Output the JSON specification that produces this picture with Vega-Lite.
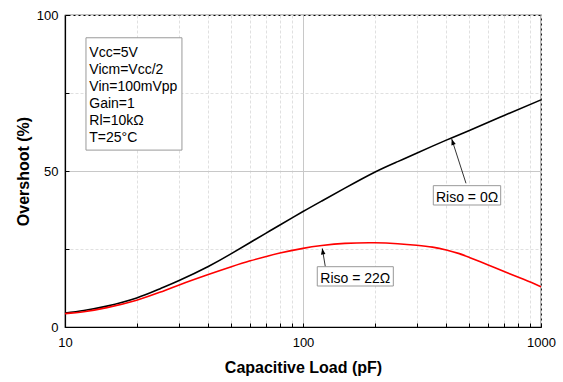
{
  "$schema": "https://vega.github.io/schema/vega-lite/v6.json",
  "width": 476,
  "height": 312,
  "autosize": {"type": "none"},
  "padding": {"left": 65, "top": 15, "right": 22, "bottom": 55},
  "background": "white",
  "config": {
    "view": {"stroke": "#000", "strokeWidth": 1.2},
    "font": "Liberation Sans",
    "axis": {"labelFont": "Liberation Sans", "titleFont": "Liberation Sans"}
  },
  "datasets": {
    "curves": [
      {"pF": 10, "overshoot": 4.5, "series": "Riso = 0Ω"},
      {"pF": 12, "overshoot": 5.3, "series": "Riso = 0Ω"},
      {"pF": 15, "overshoot": 6.7, "series": "Riso = 0Ω"},
      {"pF": 20, "overshoot": 9.3, "series": "Riso = 0Ω"},
      {"pF": 25, "overshoot": 12.2, "series": "Riso = 0Ω"},
      {"pF": 30, "overshoot": 14.8, "series": "Riso = 0Ω"},
      {"pF": 40, "overshoot": 19.4, "series": "Riso = 0Ω"},
      {"pF": 50, "overshoot": 23.5, "series": "Riso = 0Ω"},
      {"pF": 60, "overshoot": 27.1, "series": "Riso = 0Ω"},
      {"pF": 70, "overshoot": 30.1, "series": "Riso = 0Ω"},
      {"pF": 80, "overshoot": 32.7, "series": "Riso = 0Ω"},
      {"pF": 100, "overshoot": 37.0, "series": "Riso = 0Ω"},
      {"pF": 120, "overshoot": 40.4, "series": "Riso = 0Ω"},
      {"pF": 150, "overshoot": 44.5, "series": "Riso = 0Ω"},
      {"pF": 200, "overshoot": 49.6, "series": "Riso = 0Ω"},
      {"pF": 250, "overshoot": 53.0, "series": "Riso = 0Ω"},
      {"pF": 300, "overshoot": 55.7, "series": "Riso = 0Ω"},
      {"pF": 400, "overshoot": 59.9, "series": "Riso = 0Ω"},
      {"pF": 500, "overshoot": 63.0, "series": "Riso = 0Ω"},
      {"pF": 700, "overshoot": 67.8, "series": "Riso = 0Ω"},
      {"pF": 1000, "overshoot": 72.8, "series": "Riso = 0Ω"},
      {"pF": 10, "overshoot": 4.3, "series": "Riso = 22Ω"},
      {"pF": 12, "overshoot": 4.9, "series": "Riso = 22Ω"},
      {"pF": 15, "overshoot": 6.2, "series": "Riso = 22Ω"},
      {"pF": 20, "overshoot": 8.6, "series": "Riso = 22Ω"},
      {"pF": 25, "overshoot": 11.1, "series": "Riso = 22Ω"},
      {"pF": 30, "overshoot": 13.4, "series": "Riso = 22Ω"},
      {"pF": 40, "overshoot": 16.8, "series": "Riso = 22Ω"},
      {"pF": 50, "overshoot": 19.3, "series": "Riso = 22Ω"},
      {"pF": 60, "overshoot": 21.2, "series": "Riso = 22Ω"},
      {"pF": 70, "overshoot": 22.6, "series": "Riso = 22Ω"},
      {"pF": 80, "overshoot": 23.7, "series": "Riso = 22Ω"},
      {"pF": 100, "overshoot": 25.2, "series": "Riso = 22Ω"},
      {"pF": 120, "overshoot": 26.1, "series": "Riso = 22Ω"},
      {"pF": 150, "overshoot": 26.8, "series": "Riso = 22Ω"},
      {"pF": 200, "overshoot": 27.0, "series": "Riso = 22Ω"},
      {"pF": 250, "overshoot": 26.7, "series": "Riso = 22Ω"},
      {"pF": 300, "overshoot": 26.2, "series": "Riso = 22Ω"},
      {"pF": 350, "overshoot": 25.6, "series": "Riso = 22Ω"},
      {"pF": 400, "overshoot": 24.7, "series": "Riso = 22Ω"},
      {"pF": 450, "overshoot": 23.6, "series": "Riso = 22Ω"},
      {"pF": 500, "overshoot": 22.3, "series": "Riso = 22Ω"},
      {"pF": 600, "overshoot": 19.9, "series": "Riso = 22Ω"},
      {"pF": 700, "overshoot": 17.8, "series": "Riso = 22Ω"},
      {"pF": 850, "overshoot": 15.2, "series": "Riso = 22Ω"},
      {"pF": 1000, "overshoot": 12.9, "series": "Riso = 22Ω"}
    ],
    "conditions": [
      {"pF": 12.65, "overshoot": 86.6, "text": "Vcc=5V"},
      {"pF": 12.65, "overshoot": 81.2, "text": "Vicm=Vcc/2"},
      {"pF": 12.65, "overshoot": 75.7, "text": "Vin=100mVpp"},
      {"pF": 12.65, "overshoot": 70.3, "text": "Gain=1"},
      {"pF": 12.65, "overshoot": 64.8, "text": "Rl=10kΩ"},
      {"pF": 12.65, "overshoot": 59.3, "text": "T=25°C"}
    ],
    "condbox": [
      {"pF": 12.25, "pF2": 31.0, "overshoot": 92.7, "overshoot2": 56.7}
    ],
    "labels": [
      {"label": "Riso = 0Ω", "pF": 352.8, "pF2": 677, "overshoot": 45.3, "overshoot2": 39.1, "tpF": 489, "toversh": 40.2},
      {"label": "Riso = 22Ω", "pF": 114.8, "pF2": 239.6, "overshoot": 19.33, "overshoot2": 13.14, "tpF": 165.9, "toversh": 14.2}
    ],
    "arrows": [
      {"label": "Riso = 0Ω", "pF": 484, "overshoot": 46.06, "pF2": 421.6, "overshoot2": 60.26},
      {"label": "Riso = 22Ω", "pF": 124.1, "overshoot": 19.33, "pF2": 120.5, "overshoot2": 25.2}
    ]
  },
  "layer": [
    {
      "data": {"name": "curves"},
      "mark": {"type": "line", "strokeWidth": 1.6, "interpolate": "natural"},
      "encoding": {
        "x": {
          "field": "pF", "type": "quantitative",
          "scale": {"type": "log", "domain": [10, 1000]},
          "axis": {
            "title": "Capacitive Load (pF)",
            "values": [10, 20, 30, 40, 50, 60, 70, 80, 90, 100, 200, 300, 400, 500, 600, 700, 800, 900, 1000],
            "labelExpr": "(datum.value == 10 || datum.value == 100 || datum.value == 1000) ? format(datum.value, 'd') : ''",
            "labelFontSize": 13, "labelColor": "#000", "labelPadding": 13,
            "labelFlush": false, "labelOverlap": false,
            "tickSize": -4, "tickColor": "#000", "tickWidth": 1,
            "domainColor": "#000", "domainWidth": 1.2,
            "grid": true,
            "gridColor": {"condition": {"test": "datum.value == 100", "value": "#c8c8c8"}, "value": "#e0e0e0"},
            "gridDash": {"condition": {"test": "datum.value == 100", "value": []}, "value": [3, 2]},
            "gridWidth": 1,
            "titleFontSize": 16, "titleFontWeight": "bold", "titleColor": "#000",
            "titleX": 238, "titleY": 45, "titleAlign": "center", "titleBaseline": "alphabetic"
          }
        },
        "y": {
          "field": "overshoot", "type": "quantitative",
          "scale": {"domain": [0, 100]},
          "axis": {
            "title": "Overshoot (%)",
            "values": [0, 25, 50, 75, 100],
            "labelExpr": "(datum.value == 0 || datum.value == 50 || datum.value == 100) ? format(datum.value, 'd') : ''",
            "labelFontSize": 13, "labelColor": "#000", "labelPadding": 11,
            "labelFlush": false, "labelOverlap": false,
            "tickSize": -4, "tickColor": "#000", "tickWidth": 1,
            "domainColor": "#000", "domainWidth": 1.2,
            "grid": true,
            "gridColor": {"condition": {"test": "datum.value == 50", "value": "#c8c8c8"}, "value": "#e0e0e0"},
            "gridDash": {"condition": {"test": "datum.value == 50", "value": []}, "value": [3, 2]},
            "gridWidth": 1,
            "titleFontSize": 16, "titleFontWeight": "bold", "titleColor": "#000",
            "titleAngle": -90, "titleX": -37, "titleY": 156, "titleAlign": "center", "titleBaseline": "alphabetic"
          }
        },
        "color": {
          "field": "series", "type": "nominal",
          "scale": {"domain": ["Riso = 0Ω", "Riso = 22Ω"], "range": ["#000000", "#ff0000"]},
          "legend": null
        }
      }
    },
    {
      "data": {"name": "condbox"},
      "mark": {"type": "rect", "fill": "white", "stroke": "#999999", "strokeWidth": 1},
      "encoding": {
        "x": {"field": "pF", "type": "quantitative", "scale": {"type": "log", "domain": [10, 1000]}},
        "x2": {"field": "pF2"},
        "y": {"field": "overshoot", "type": "quantitative", "scale": {"domain": [0, 100]}},
        "y2": {"field": "overshoot2"}
      }
    },
    {
      "data": {"name": "conditions"},
      "mark": {"type": "text", "align": "left", "baseline": "alphabetic", "fontSize": 14, "font": "Liberation Sans", "color": "#000"},
      "encoding": {
        "x": {"field": "pF", "type": "quantitative", "scale": {"type": "log", "domain": [10, 1000]}},
        "y": {"field": "overshoot", "type": "quantitative", "scale": {"domain": [0, 100]}},
        "text": {"field": "text"}
      }
    },
    {
      "data": {"name": "arrows"},
      "mark": {"type": "rule", "color": "#000", "strokeWidth": 0.8},
      "encoding": {
        "x": {"field": "pF", "type": "quantitative", "scale": {"type": "log", "domain": [10, 1000]}},
        "x2": {"field": "pF2"},
        "y": {"field": "overshoot", "type": "quantitative", "scale": {"domain": [0, 100]}},
        "y2": {"field": "overshoot2"}
      }
    },
    {
      "data": {"name": "arrows"},
      "mark": {"type": "point", "shape": "M0,0L-0.38,1L0.38,1Z", "filled": true, "color": "#000", "size": 144, "opacity": 1},
      "encoding": {
        "x": {"field": "pF2", "type": "quantitative", "scale": {"type": "log", "domain": [10, 1000]}},
        "y": {"field": "overshoot2", "type": "quantitative", "scale": {"domain": [0, 100]}},
        "angle": {"condition": {"test": "datum.label == 'Riso = 0Ω'", "value": 342}, "value": 351}
      }
    },
    {
      "data": {"name": "labels"},
      "mark": {"type": "rect", "fill": "white", "stroke": "#999999", "strokeWidth": 1},
      "encoding": {
        "x": {"field": "pF", "type": "quantitative", "scale": {"type": "log", "domain": [10, 1000]}},
        "x2": {"field": "pF2"},
        "y": {"field": "overshoot", "type": "quantitative", "scale": {"domain": [0, 100]}},
        "y2": {"field": "overshoot2"}
      }
    },
    {
      "data": {"name": "labels"},
      "mark": {"type": "text", "align": "center", "baseline": "alphabetic", "fontSize": 14, "font": "Liberation Sans", "color": "#000"},
      "encoding": {
        "x": {"field": "tpF", "type": "quantitative", "scale": {"type": "log", "domain": [10, 1000]}},
        "y": {"field": "toversh", "type": "quantitative", "scale": {"domain": [0, 100]}},
        "text": {"field": "label"}
      }
    }
  ]
}
